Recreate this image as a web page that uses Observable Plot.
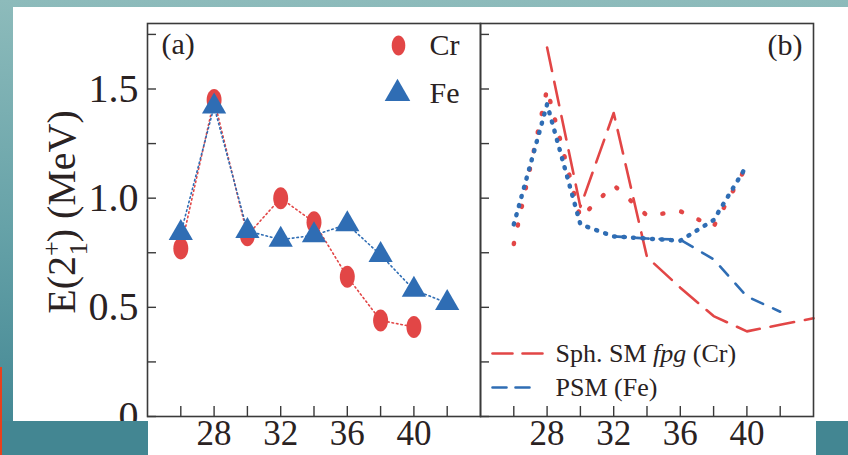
<!DOCTYPE html>
<html><head><meta charset="utf-8">
<script src="https://cdn.jsdelivr.net/npm/d3@7"></script>
<script src="https://cdn.jsdelivr.net/npm/@observablehq/plot@0.6"></script>
<style>
html,body{margin:0;padding:0;}
body{width:848px;height:455px;overflow:hidden;position:relative;background:linear-gradient(to bottom,#8dbbbb 0%,#66a2a8 50%,#3f8491 100%);}
#paper{position:absolute;left:13px;top:7px;width:835px;height:448px;background:#fff;}
#chart{position:absolute;left:0;top:0;}
.cover{position:absolute;top:421px;height:34px;background:#438692;}
#redbar{position:absolute;left:0;top:367px;width:2px;height:88px;background:#e8401c;}
</style></head><body>
<div id="paper"></div>
<div id="chart"></div>
<div class="cover" style="left:0;width:148px"></div>
<div class="cover" style="left:816px;width:32px"></div>
<div id="redbar"></div>
<script>
// ---- data ----
const panels = ["a", "b"];
const panelLabels = ["(a)", "(b)"];
// panel (a): experiment
const nCr = [26, 28, 30, 32, 34, 36, 38, 40];
const eCr = [0.77, 1.45, 0.83, 1.00, 0.89, 0.64, 0.44, 0.41];
const nFe = [26, 28, 30, 32, 34, 36, 38, 40, 42];
const eFe = [0.84, 1.42, 0.85, 0.81, 0.83, 0.88, 0.74, 0.58, 0.52];
// panel (b): calculations
const nSphCr = [28, 30, 32, 34, 36, 38, 40, 42, 44];
const eSphCr = [1.69, 0.96, 1.39, 0.73, 0.59, 0.46, 0.39, 0.42, 0.45];
const nPsmFe = [32, 34, 36, 38, 40, 42];
const ePsmFe = [0.825, 0.815, 0.81, 0.72, 0.55, 0.48];
const nCalcCr = [26, 28, 30, 32, 34, 36, 38, 40];
const eCalcCr = [0.79, 1.50, 0.91, 1.06, 0.92, 0.94, 0.87, 1.15];
const nCalcFe = [26, 28, 30, 32, 34, 36, 38, 40];
const eCalcFe = [0.88, 1.43, 0.88, 0.825, 0.815, 0.805, 0.90, 1.15];
// axes
const xTicks = [26, 28, 30, 32, 34, 36, 38, 40, 42];
const xLabels = [28, 32, 36, 40];
const yTicks = [0, 0.25, 0.5, 0.75, 1.0, 1.25, 1.5, 1.75];
const yLabels = [0, 0.5, 1.0, 1.5];
const yTitle = "E(2+1) (MeV)";
const legendA = ["Cr", "Fe"];
const legendB = ["Sph. SM fpg (Cr)", "PSM (Fe)"];

// ---- styling ----
const RED = "#e24646", BLUE = "#2f6db4", INK = "#2a2222", FRAME = "#3a3a3a";
const FONT = '"Liberation Serif","Times New Roman",serif';

const rows = (panel, ns, es) => ns.map((N, i) => ({panel, N, E: es[i]}));
const crA = rows("a", nCr, eCr), feA = rows("a", nFe, eFe);
const sphB = rows("b", nSphCr, eSphCr), psmB = rows("b", nPsmFe, ePsmFe);
const calcCrB = rows("b", nCalcCr, eCalcCr), calcFeB = rows("b", nCalcFe, eCalcFe);

const ellipse = {draw(ctx, size) {
  const r = Math.sqrt(size / Math.PI), rx = r * 0.68, ry = r, k = 0.5523;
  ctx.moveTo(rx, 0);
  ctx.bezierCurveTo(rx, ry * k, rx * k, ry, 0, ry);
  ctx.bezierCurveTo(-rx * k, ry, -rx, ry * k, -rx, 0);
  ctx.bezierCurveTo(-rx, -ry * k, -rx * k, -ry, 0, -ry);
  ctx.bezierCurveTo(rx * k, -ry, rx, -ry * k, rx, 0);
  ctx.closePath();
}};
const seg = {draw(ctx, l) { ctx.moveTo(0, 0); ctx.lineTo(0, -l); }};

const xy = {fx: "panel", x: "N", y: "E"};
const chart = Plot.plot({
  width: 848, height: 455,
  marginLeft: 146, marginRight: 35, marginTop: 23, marginBottom: 39,
  fx: {domain: panels, padding: 0, axis: null},
  x: {domain: [24, 44], axis: null},
  y: {domain: [0, 1.8], axis: null},
  style: {background: "transparent", fontFamily: FONT, color: INK, overflow: "visible"},
  marks: [
    // panel (a)
    Plot.line(crA, {...xy, stroke: RED, strokeWidth: 1.6, strokeDasharray: "1.5,3"}),
    Plot.line(feA, {...xy, stroke: BLUE, strokeWidth: 1.6, strokeDasharray: "1.5,3"}),
    Plot.dot(crA, {...xy, symbol: ellipse, r: 11, fill: RED}),
    Plot.dot(feA, {...xy, symbol: d3.symbolTriangle, r: 9, fill: BLUE}),
    // panel (b)
    Plot.line(sphB, {...xy, stroke: RED, strokeWidth: 2.6, strokeDasharray: "24,11"}),
    Plot.line(psmB, {...xy, stroke: BLUE, strokeWidth: 2.6, strokeDasharray: "12,11"}),
    Plot.line(calcCrB, {...xy, stroke: RED, strokeWidth: 4.5, strokeDasharray: "1,18", strokeLinecap: "round"}),
    Plot.line(calcFeB, {...xy, stroke: BLUE, strokeWidth: 4.5, strokeDasharray: "1,8.5", strokeLinecap: "round"}),
    // frame + axes
    Plot.frame({stroke: FRAME, strokeWidth: 1.6}),
    Plot.axisY({ticks: yTicks, tickSize: -9, fill: "none", label: null, facetAnchor: null, stroke: FRAME, strokeWidth: 1.4}),
    Plot.axisX({ticks: xTicks, tickSize: -10, fill: "none", label: null, facetAnchor: null, stroke: FRAME, strokeWidth: 1.4}),
    Plot.axisY({ticks: yLabels, tickSize: 0, tickPadding: 9, fontSize: 40, label: null,
      tickFormat: d => d === 0 ? "0" : d.toFixed(1)}),
    Plot.axisX({ticks: xLabels, tickSize: 0, tickPadding: 4, fontSize: 35, label: null, facetAnchor: null}),
    // y title
    Plot.text([{panel: "a", t: yTitle}], {fx: "panel", text: "t", frameAnchor: "left", rotate: -90,
      textAnchor: "middle", lineAnchor: "top", dx: -101, dy: -8, fontSize: 40}),
    // panel labels
    Plot.text([{panel: "a", t: panelLabels[0]}], {fx: "panel", text: "t", frameAnchor: "top-left",
      textAnchor: "start", lineAnchor: "middle", dx: 14, dy: 21, fontSize: 30}),
    Plot.text([{panel: "b", t: panelLabels[1]}], {fx: "panel", text: "t", frameAnchor: "top-right",
      textAnchor: "end", lineAnchor: "middle", dx: -11, dy: 22, fontSize: 30}),
    // legend (a)
    Plot.dot([{panel: "a"}], {fx: "panel", frameAnchor: "top-right", dx: -82, dy: 22, symbol: ellipse, r: 10, fill: RED}),
    Plot.dot([{panel: "a"}], {fx: "panel", frameAnchor: "top-right", dx: -83, dy: 70, symbol: d3.symbolTriangle, r: 9.5, fill: BLUE}),
    Plot.text([{panel: "a", t: legendA[0]}], {fx: "panel", text: "t", frameAnchor: "top-right",
      textAnchor: "start", lineAnchor: "middle", dx: -51, dy: 22, fontSize: 30}),
    Plot.text([{panel: "a", t: legendA[1]}], {fx: "panel", text: "t", frameAnchor: "top-right",
      textAnchor: "start", lineAnchor: "middle", dx: -51, dy: 70, fontSize: 30}),
    // legend (b)
    Plot.vector([{panel: "b"}], {fx: "panel", frameAnchor: "bottom-left", dx: 12, dy: -63, length: 50, rotate: 90,
      anchor: "start", shape: seg, stroke: RED, strokeWidth: 2.6, strokeDasharray: "20,10"}),
    Plot.vector([{panel: "b"}], {fx: "panel", frameAnchor: "bottom-left", dx: 12, dy: -29, length: 40, rotate: 90,
      anchor: "start", shape: seg, stroke: BLUE, strokeWidth: 2.6, strokeDasharray: "14,9"}),
    Plot.text([{panel: "b", t: legendB[0]}], {fx: "panel", text: "t", frameAnchor: "bottom-left",
      textAnchor: "start", lineAnchor: "middle", dx: 75, dy: -63, fontSize: 26}),
    Plot.text([{panel: "b", t: legendB[1]}], {fx: "panel", text: "t", frameAnchor: "bottom-left",
      textAnchor: "start", lineAnchor: "middle", dx: 75, dy: -29, fontSize: 26})
  ]
});
document.getElementById("chart").appendChild(chart);

// rich text: stacked sub/superscript in the y title, italic "fpg" in the legend
const NS = "http://www.w3.org/2000/svg";
function span(parent, txt, attrs) {
  const s = document.createElementNS(NS, "tspan");
  for (const k in attrs) s.setAttribute(k, attrs[k]);
  s.textContent = txt; parent.appendChild(s); return s;
}
chart.querySelectorAll("text").forEach(t => {
  if (t.textContent === yTitle) {
    t.textContent = "";
    span(t, "E(2", {});
    span(t, "+", {"font-size": 26, dy: -15});
    span(t, "1", {"font-size": 26, dx: -14, dy: 27});
    span(t, ") (MeV)", {dy: -12});
  } else if (t.textContent === legendB[0]) {
    t.textContent = "";
    span(t, "Sph. SM ", {});
    span(t, "fpg", {"font-style": "italic"});
    span(t, " (Cr)", {});
  }
});
</script>
</body></html>
